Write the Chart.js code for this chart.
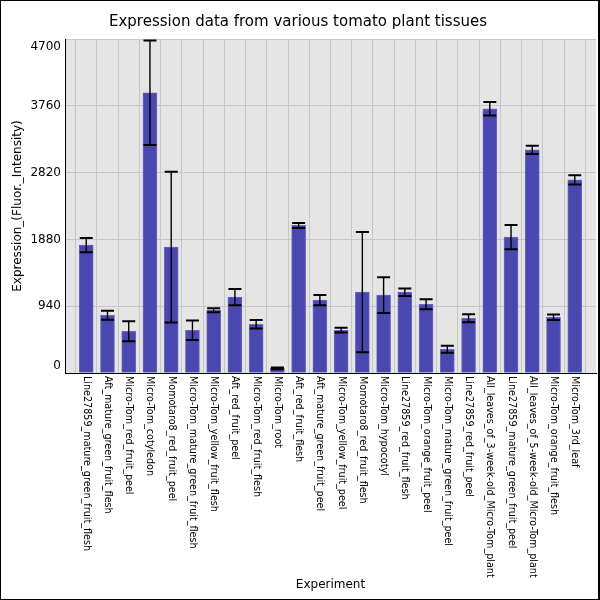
<!DOCTYPE html>
<html>
<head>
<meta charset="utf-8">
<script src="https://cdn.jsdelivr.net/npm/chart.js@4"></script>
<style>
  body { margin: 0; background: #fff; }
  canvas { display: block; }
</style>
</head>
<body>
<canvas id="myChart" width="600" height="600"></canvas>
<script>
// tissues, in the order they appear on the x axis
const tissues = [
  'Line27859_mature_green_fruit_flesh',
  'Aft_mature_green_fruit_flesh',
  'Micro-Tom_red_fruit_peel',
  'Micro-Tom_cotyledon',
  'Momotaro8_red_fruit_peel',
  'Micro-Tom_mature_green_fruit_flesh',
  'Micro-Tom_yellow_fruit_flesh',
  'Aft_red_fruit_peel',
  'Micro-Tom_red_fruit_flesh',
  'Micro-Tom_root',
  'Aft_red_fruit_flesh',
  'Aft_mature_green_fruit_peel',
  'Micro-Tom_yellow_fruit_peel',
  'Momotaro8_red_fruit_flesh',
  'Micro-Tom_hypocotyl',
  'Line27859_red_fruit_flesh',
  'Micro-Tom_orange_fruit_peel',
  'Micro-Tom_mature_green_fruit_peel',
  'Line27859_red_fruit_peel',
  'All_leaves_of_3-week-old_Micro-Tom_plant',
  'Line27859_mature_green_fruit_peel',
  'All_leaves_of_5-week-old_Micro-Tom_plant',
  'Micro-Tom_orange_fruit_flesh',
  'Micro-Tom_3rd_leaf'
];
const expression = [1800, 813, 588, 3943, 1772, 602, 884, 1067, 686, 66, 2077, 1025,
                    602, 1137, 1095, 1137, 968, 334, 771, 3718, 1913, 3140, 785, 2717];
const errors = [101, 62, 140, 735, 1060, 138, 28, 115, 60, 12, 35, 73,
                33, 846, 251, 52, 70, 50, 57, 95, 170, 57, 38, 65];
const yTicks = [0, 940, 1880, 2820, 3760, 4700];

// one empty slot each side so bars sit one step in from the edges
const labels = [''].concat(tissues, ['']);
const values = [null].concat(expression, [null]);

Chart.defaults.font.family = 'DejaVu Sans';
Chart.defaults.color = '#000';

const extras = {
  id: 'extras',
  beforeDraw(chart) {
    const {ctx, chartArea: a} = chart;
    ctx.save();
    ctx.fillStyle = '#e5e5e5';
    ctx.fillRect(a.left, a.top, a.right - a.left, a.bottom - a.top);
    ctx.restore();
  },
  afterDatasetsDraw(chart) {
    const ctx = chart.ctx;
    const x = chart.scales.x, y = chart.scales.y;
    ctx.save();
    ctx.strokeStyle = '#000';
    for (let i = 0; i < expression.length; i++) {
      const px = x.getPixelForValue(i + 1);
      const hi = y.getPixelForValue(expression[i] + errors[i]);
      const lo = y.getPixelForValue(Math.max(0, expression[i] - errors[i]));
      ctx.lineWidth = 1.4;
      ctx.beginPath();
      ctx.moveTo(px, hi); ctx.lineTo(px, lo);
      ctx.stroke();
      ctx.lineWidth = 2;
      ctx.beginPath();
      ctx.moveTo(px - 6.5, hi); ctx.lineTo(px + 6.5, hi);
      ctx.moveTo(px - 6.5, lo); ctx.lineTo(px + 6.5, lo);
      ctx.stroke();
    }
    ctx.restore();
  },
  afterDraw(chart) {
    const ctx = chart.ctx;
    const x = chart.scales.x, y = chart.scales.y, a = chart.chartArea;
    ctx.save();
    ctx.fillStyle = '#000';
    // y tick labels, kept inside the plot height
    ctx.font = '12px "DejaVu Sans"';
    ctx.textAlign = 'right';
    ctx.textBaseline = 'middle';
    yTicks.forEach(v => {
      let py = y.getPixelForValue(v);
      py = Math.min(Math.max(py, a.top + 7.5), a.bottom - 7);
      ctx.fillText(String(v), a.left - 4, py);
    });
    // x tick labels, reading top to bottom
    ctx.font = '9.6px "DejaVu Sans"';
    ctx.textAlign = 'left';
    tissues.forEach((t, i) => {
      const px = x.getPixelForValue(i + 1);
      ctx.save();
      ctx.translate(px, a.bottom + 3);
      ctx.rotate(Math.PI / 2);
      ctx.fillText(t, 0, 0);
      ctx.restore();
    });
    // frame round the picture
    ctx.strokeStyle = '#000';
    ctx.lineWidth = 1;
    ctx.strokeRect(0.5, 0.5, 599, 599);
    ctx.fillRect(598, 0, 2, 600);
    ctx.restore();
  }
};

const ctx = document.getElementById('myChart').getContext('2d');
new Chart(ctx, {
  type: 'bar',
  data: {
    labels: labels,
    datasets: [{
      data: values,
      backgroundColor: '#4b47b1',
      borderColor: '#6a67c2',
      borderWidth: 1,
      barThickness: 14
    }]
  },
  options: {
    responsive: false,
    animation: false,
    devicePixelRatio: 1,
    layout: { padding: { top: 1, left: 0, right: 4, bottom: 0 } },
    plugins: {
      legend: { display: false },
      tooltip: { enabled: false },
      title: {
        display: true,
        text: 'Expression data from various tomato plant tissues',
        font: { size: 15, weight: 'normal' },
        color: '#000',
        padding: { top: 12, bottom: 8 }
      }
    },
    scales: {
      x: {
        type: 'category',
        offset: false,
        grid: { color: '#c6c6c6', drawTicks: false },
        border: { color: '#000', width: 1 },
        ticks: { display: false },
        title: { display: true, text: 'Experiment', font: { size: 12 }, padding: { top: 0, bottom: 8 } },
        afterFit: s => { s.height = 227; }
      },
      y: {
        min: 0,
        max: 4700,
        grid: { color: '#c6c6c6', drawTicks: false },
        border: { color: '#000', width: 1 },
        ticks: { display: false, stepSize: 940 },
        title: { display: true, text: 'Expression_(Fluor._Intensity)', font: { size: 12 }, padding: { top: 11, bottom: 0 } },
        afterFit: s => { s.width = 65; }
      }
    }
  },
  plugins: [extras]
});
</script>
</body>
</html>
